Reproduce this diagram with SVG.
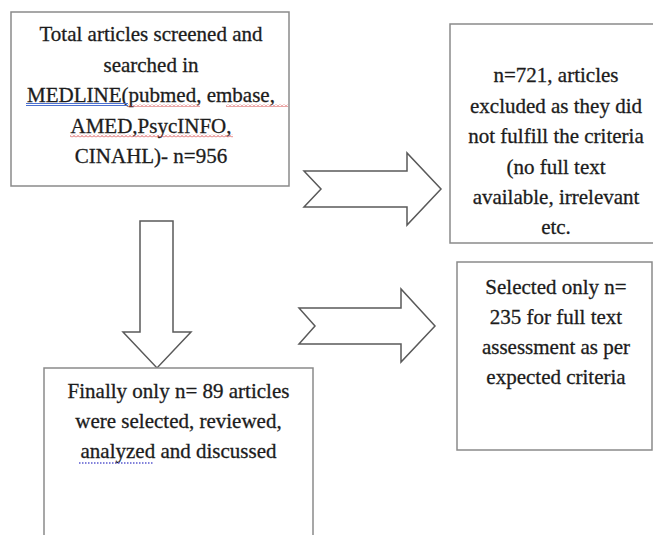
<svg xmlns="http://www.w3.org/2000/svg" width="653" height="535" viewBox="0 0 653 535">
<style>
.box{fill:#ffffff;stroke:#8a8a8a;stroke-width:1.5}
.arrow{fill:#ffffff;stroke:#5a5a5a;stroke-width:1.5;stroke-linejoin:miter}
.t{font-family:"Liberation Serif","Times New Roman","DejaVu Serif",serif;font-size:21px;fill:#1c1c1c;stroke:#1c1c1c;stroke-width:0.3;text-anchor:middle}
.blue{stroke:#4a6fd0;stroke-width:1;fill:none}
.dots{stroke:#5a5ad0;stroke-width:1.5;stroke-dasharray:1.5 1.5;fill:none}
</style>
<defs>
<pattern id="squiggle" width="4" height="3" patternUnits="userSpaceOnUse">
<path d="M0,2.5 L2,0.5 L4,2.5" fill="none" stroke="#d23a3a" stroke-width="0.9"/>
</pattern>
</defs>
<rect width="653" height="535" fill="#ffffff"/>
<g id="connectors">
<polygon class="arrow" points="304,171 407,171 407,153 441,189 407,225 407,207 304,207 321,189"/>
<polygon class="arrow" points="299,308 401,308 401,289 435,326 401,362 401,344 299,344 315,326"/>
<polygon class="arrow" points="140,221 173,221 173,332 191,332 157,368 123,332 140,332"/>
</g>
<g id="node-search">
<rect class="box" x="11" y="12" width="278" height="174"/>
<text class="t" x="151" y="41">Total articles screened and</text>
<text class="t" x="151" y="71.5">searched in</text>
<text class="t" x="151" y="102">MEDLINE(pubmed, embase,</text>
<text class="t" x="151" y="132.5">AMED,PsycINFO,</text>
<text class="t" x="151" y="163">CINAHL)- n=956</text>
<line class="blue" x1="26" y1="103.5" x2="128" y2="103.5"/>
<line class="blue" x1="26" y1="105.5" x2="128" y2="105.5"/>
<rect x="128" y="104" width="72" height="3" fill="url(#squiggle)"/>
<rect x="226" y="104" width="62" height="3" fill="url(#squiggle)"/>
<rect x="70" y="134.5" width="163" height="3" fill="url(#squiggle)"/>
</g>
<g id="node-excluded">
<rect class="box" x="450" y="24" width="212" height="219"/>
<text class="t" x="556" y="82">n=721, articles</text>
<text class="t" x="556" y="112.5">excluded as they did</text>
<text class="t" x="556" y="143">not fulfill the criteria</text>
<text class="t" x="556" y="173.5">(no full text</text>
<text class="t" x="556" y="204">available, irrelevant</text>
<text class="t" x="556" y="234">etc.</text>
</g>
<g id="node-selected">
<rect class="box" x="457" y="262" width="195" height="188"/>
<text class="t" x="556" y="294">Selected only n=</text>
<text class="t" x="556" y="324">235 for full text</text>
<text class="t" x="556" y="354">assessment as per</text>
<text class="t" x="556" y="384">expected criteria</text>
</g>
<g id="node-final">
<rect class="box" x="44" y="368" width="269" height="180"/>
<text class="t" x="178.5" y="398">Finally only n= 89 articles</text>
<text class="t" x="178.5" y="428">were selected, reviewed,</text>
<text class="t" x="178.5" y="458">analyzed and discussed</text>
<line class="dots" x1="79" y1="463" x2="154" y2="463"/>
</g>
</svg>
